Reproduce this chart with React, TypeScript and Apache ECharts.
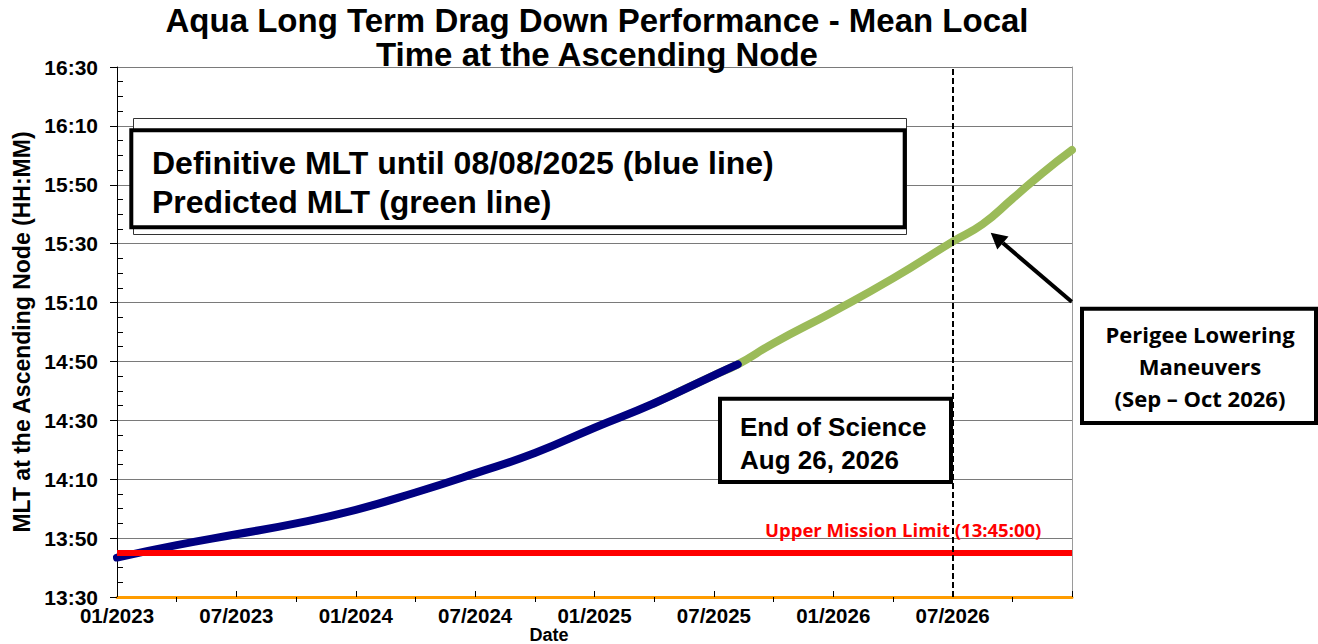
import React, { useEffect, useRef } from "react";
import * as echarts from "echarts";

// Months since 01/2023 (x) and MLT in minutes after 13:30 (y)
const blueMonths = [0, 3, 6, 9, 12, 15, 18, 21, 24, 27, 30, 31.2];
const blueMLT = [13.4, 17.6, 21.3, 25.0, 29.6, 35.5, 42.0, 48.9, 57.5, 65.8, 75.3, 79.0];

const greenMonths = [27, 30, 31.2, 33, 36, 39, 42, 43.5, 45, 46.5, 48];
const greenMLT = [65.8, 75.3, 79.0, 86.2, 96.9, 108.2, 120.7, 126.6, 135.2, 143.9, 151.8];

const upperLimit = 15; // 13:45
const endOfScienceMonth = 42;

const xMin = 0;
const xMax = 48;
const xInterval = 6;
const yMin = 0;
const yMax = 180;
const yInterval = 20;
const yBaseMinutes = 13 * 60 + 30;
const startYear = 2023;

const FONT = "'Liberation Sans', Arial, Helvetica, sans-serif";
const CAL = "'Open Sans', 'Noto Sans', sans-serif";

const pad2 = (n: number) => String(n).padStart(2, "0");
const fmtMonth = (m: number) => {
  if (m >= xMax) return "";
  const mm = (Math.round(m) % 12) + 1;
  const yy = startYear + Math.floor(Math.round(m) / 12);
  return pad2(mm) + "/" + yy;
};
const fmtTime = (v: number) => {
  const t = yBaseMinutes + Math.round(v);
  return Math.floor(t / 60) + ":" + pad2(t % 60);
};

export default function App() {
  const ref = useRef<HTMLDivElement>(null);
  useEffect(() => {
    if (!ref.current) return;
    const chart = echarts.init(ref.current, null, { renderer: "svg" });
    const blueData = blueMonths.map((m, i) => [m, blueMLT[i]]);
    const greenData = greenMonths.map((m, i) => [m, greenMLT[i]]);
    const txt = (text: string, x: number, y: number, size: number, opts: any = {}) => ({
      type: "text",
      x,
      y,
      z: 100,
      rotation: opts.rotation || 0,
      style: {
        text,
        fill: opts.fill || "#000",
        fontSize: size,
        fontWeight: "bold",
        fontFamily: opts.family || FONT,
        textAlign: opts.align || "left",
        textVerticalAlign: "middle",
      },
    });
    const rect = (x: number, y: number, w: number, h: number, lw: number, stroke = "#000") => ({
      type: "rect",
      z: 100,
      shape: { x, y, width: w, height: h },
      style: { fill: "#fff", stroke, lineWidth: lw },
    });
    chart.setOption({
      animation: false,
      backgroundColor: "#fff",
      grid: { left: 117, right: 246, top: 67, bottom: 47, containLabel: false },
      xAxis: {
        type: "value",
        min: xMin,
        max: xMax,
        interval: xInterval,
        axisLine: { show: true, lineStyle: { color: "#FF9C00", width: 3 } },
        axisTick: { show: true, inside: true, length: 6, lineStyle: { color: "#000", width: 1 } },
        minorTick: { show: true, splitNumber: 2, length: -5, lineStyle: { color: "#000", width: 1 } },
        splitLine: { show: false },
        axisLabel: {
          formatter: fmtMonth,
          fontSize: 20.5,
          fontWeight: "bold",
          fontFamily: FONT,
          color: "#000",
          margin: 8,
          showMaxLabel: false,
        },
      },
      yAxis: [
        {
          type: "value",
          min: yMin,
          max: yMax,
          interval: yInterval,
          axisLine: { show: true, lineStyle: { color: "#000", width: 1 } },
          axisTick: { show: true, length: 7, lineStyle: { color: "#000", width: 1 } },
          minorTick: { show: true, splitNumber: 4, length: -6, lineStyle: { color: "#000", width: 1 } },
          splitLine: { show: true, lineStyle: { color: "#7a7a7a", width: 1 } },
          axisLabel: {
            formatter: fmtTime,
            fontSize: 21,
            fontWeight: "bold",
            fontFamily: FONT,
            color: "#000",
            margin: 19,
          },
        },
        {
          type: "value",
          position: "right",
          min: yMin,
          max: yMax,
          interval: yInterval,
          axisLine: { show: true, lineStyle: { color: "#9a9a9a", width: 1 } },
          axisTick: { show: false },
          axisLabel: { show: false },
          splitLine: { show: false },
        },
      ],
      series: [
        {
          type: "line",
          data: [],
          z: 1,
          markLine: {
            silent: true,
            symbol: ["none", "none"],
            label: { show: false },
            lineStyle: { color: "#FF0000", width: 6, type: "solid" },
            data: [{ yAxis: upperLimit }],
          },
        },
        {
          name: "Predicted",
          type: "line",
          data: greenData,
          z: 2,
          smooth: 0.5,
          showSymbol: false,
          lineStyle: { color: "#9BBB59", width: 8, cap: "round" },
        },
        {
          name: "Definitive",
          type: "line",
          data: blueData,
          z: 3,
          smooth: 0.5,
          showSymbol: false,
          lineStyle: { color: "#000080", width: 8, cap: "round" },
        },
        {
          type: "line",
          data: [],
          z: 150,
          markLine: {
            silent: true,
            z: 150,
            symbol: ["none", "none"],
            label: { show: false },
            lineStyle: { color: "#000", width: 2, type: [6, 3] },
            data: [{ xAxis: endOfScienceMonth }],
          },
        },
      ],
      graphic: [
        txt("Aqua Long Term Drag Down Performance - Mean Local", 597, 20, 33, { align: "center" }),
        txt("Time at the Ascending Node", 597, 54, 33, { align: "center" }),
        txt("MLT at the Ascending Node (HH:MM)", 22, 332, 23, { align: "center", rotation: Math.PI / 2 }),
        txt("Date", 549, 634.5, 18, { align: "center" }),
        rect(133.5, 118.5, 773, 116, 1, "#333"),
        rect(131.3, 130.3, 773.4, 97, 4),
        txt("Definitive MLT until 08/08/2025 (blue line)", 152, 163, 32),
        txt("Predicted MLT (green line)", 152, 202, 32),
        rect(720, 398.7, 231, 83.3, 4),
        txt("End of Science", 740, 427, 26),
        txt("Aug 26, 2026", 740, 460, 26),
        txt("Upper Mission Limit (13:45:00)", 765, 529, 18.5, { fill: "#FF0000", family: CAL }),
        rect(1082, 308.7, 234, 114.3, 4),
        txt("Perigee Lowering", 1200, 334, 22, { align: "center", family: CAL }),
        txt("Maneuvers", 1200, 366, 22, { align: "center", family: CAL }),
        txt("(Sep \u2013 Oct 2026)", 1200, 398, 22, { align: "center", family: CAL }),
        {
          type: "line",
          z: 100,
          shape: { x1: 1071.7, y1: 301.7, x2: 1002.9, y2: 243.1 },
          style: { stroke: "#000", lineWidth: 4 },
        },
        {
          type: "polygon",
          z: 100,
          shape: { points: [[990.7, 232.7], [1008.5, 236.5], [997.3, 249.6]] },
          style: { fill: "#000" },
        },
      ],
    });
    return () => chart.dispose();
  }, []);
  return (
    <div
      ref={ref}
      style={{ position: "absolute", left: 0, top: 0, width: 1318, height: 644, background: "#fff" }}
    />
  );
}
